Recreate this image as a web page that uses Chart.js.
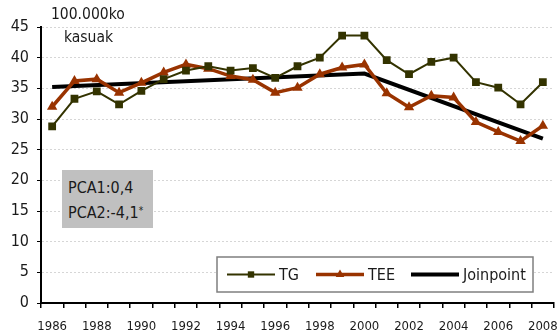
<!DOCTYPE html>
<html>
<head>
<meta charset="utf-8">
<script src="https://cdn.jsdelivr.net/npm/chart.js@4.4.1/dist/chart.umd.min.js"></script>
<style>
  body { margin: 0; background: #fff; }
  #wrap { position: relative; width: 560px; height: 335px; }
  .note { position: absolute; font-family: "DejaVu Sans Condensed", "DejaVu Sans", sans-serif; color: #1a1a1a; }
  #unit { left: 51px; top: 3px; font-size: 15.5px; line-height: 23px; }
  #unit span { display: block; margin-left: 13px; }
  #pca { left: 62px; top: 170px; width: 91px; height: 58px; background: #c0c0c0;
         font-size: 16px; line-height: 23px; padding: 6px 0 0 6px; box-sizing: border-box; }
  #pca sup { font-size: 10px; vertical-align: 4px; }
</style>
</head>
<body>
<div id="wrap">
  <canvas id="myChart" width="560" height="335"></canvas>
  <div class="note" id="unit">100.000ko<span>kasuak</span></div>
  <div class="note" id="pca">PCA1:0,4<br>PCA2:-4,1<sup>*</sup></div>
</div>
<script>
const years = ['1986', '1987', '1988', '1989', '1990', '1991', '1992', '1993', '1994', '1995', '1996', '1997',
               '1998', '1999', '2000', '2001', '2002', '2003', '2004', '2005', '2006', '2007', '2008'];
const tg = [28.8, 33.3, 34.5, 32.4, 34.6, 36.5, 37.9, 38.6, 37.9, 38.3, 36.7, 38.6,
            40.0, 43.6, 43.6, 39.6, 37.3, 39.3, 40.0, 36.0, 35.1, 32.4, 36.0];
const tee = [32.0, 36.2, 36.5, 34.3, 35.9, 37.6, 38.9, 38.2, 37.0, 36.4, 34.3, 35.1,
             37.3, 38.4, 38.9, 34.2, 31.9, 33.8, 33.5, 29.5, 27.9, 26.4, 28.9];
// joinpoint segments: only the knots are given, the line spans the gaps
const joinpoint = [35.2, null, null, null, null, null, null, null, null, null, null, null,
                   null, null, 37.4, null, null, null, null, null, null, null, 26.8];
const yTicks = [0, 5, 10, 15, 20, 25, 30, 35, 40, 45];

const font = 'DejaVu Sans Condensed';

// legend box drawn inside the plot area, bottom right
const boxLegend = {
    id: 'boxLegend',
    afterDraw(chart) {
        const ctx = chart.ctx;
        const area = chart.chartArea;
        const x0 = area.right - 337, y0 = area.bottom - 46, w = 316, h = 35;
        ctx.save();
        ctx.fillStyle = '#fff';
        ctx.fillRect(x0, y0, w, h);
        ctx.strokeStyle = '#7f7f7f';
        ctx.lineWidth = 1.5;
        ctx.strokeRect(x0, y0, w, h);
        const cy = y0 + h / 2;
        const slots = [10, 99, 194];
        const marks = [4.5, 5];
        ctx.font = '16px "' + font + '"';
        ctx.textBaseline = 'middle';
        chart.data.datasets.forEach((ds, i) => {
            const lx = x0 + slots[i];
            ctx.strokeStyle = ds.borderColor;
            ctx.lineWidth = ds.borderWidth;
            ctx.beginPath();
            ctx.moveTo(lx, cy);
            ctx.lineTo(lx + 48, cy);
            ctx.stroke();
            if (ds.pointRadius > 0) {
                ctx.fillStyle = ds.pointBackgroundColor;
                Chart.helpers.drawPoint(ctx, {pointStyle: ds.pointStyle, radius: marks[i], borderWidth: 0}, lx + 24, cy);
            }
            ctx.fillStyle = '#1a1a1a';
            ctx.fillText(ds.label, lx + 52, cy + 1);
        });
        ctx.restore();
    }
};

const ctx = document.getElementById('myChart').getContext('2d');
new Chart(ctx, {
    type: 'line',
    data: {
        labels: years,
        datasets: [
            {
                label: 'TG', data: tg,
                borderColor: '#333300', borderWidth: 2,
                pointStyle: 'rect', pointRadius: 5.5,
                pointBackgroundColor: '#333300', pointBorderColor: '#333300', pointBorderWidth: 0
            },
            {
                label: 'TEE', data: tee,
                borderColor: '#993300', borderWidth: 3.5,
                pointStyle: 'triangle', pointRadius: 6,
                pointBackgroundColor: '#993300', pointBorderColor: '#993300', pointBorderWidth: 0
            },
            {
                label: 'Joinpoint', data: joinpoint,
                borderColor: '#000000', borderWidth: 4,
                pointRadius: 0, spanGaps: true
            }
        ]
    },
    options: {
        responsive: false,
        animation: false,
        events: [],
        layout: { padding: { top: 27, right: 5, left: 0, bottom: 0 } },
        plugins: {
            legend: { display: false },
            tooltip: { enabled: false }
        },
        scales: {
            x: {
                offset: true,
                grid: { offset: true, drawOnChartArea: false, color: '#000', tickLength: 5, lineWidth: 1.5 },
                border: { color: '#000', width: 2 },
                ticks: {
                    autoSkip: false, maxRotation: 0, padding: 11,
                    color: '#1a1a1a', font: { family: font, size: 13 },
                    callback: function(v, i) { return i % 2 === 0 ? years[i] : ''; }
                },
                afterFit: function(scale) {
                    scale.height = 32;
                    scale.paddingLeft = 0;
                    scale.paddingRight = 0;
                }
            },
            y: {
                min: 0, max: 45,
                afterBuildTicks: function(scale) { scale.ticks = yTicks.map(v => ({ value: v })); },
                grid: { color: '#d6d6d6', tickColor: '#000', tickLength: 4, lineWidth: 1 },
                border: { color: '#000', width: 2, dash: [2, 2] },
                ticks: { padding: 8, color: '#1a1a1a', font: { family: font, size: 16 } },
                afterFit: function(scale) {
                    scale.width = 41;
                    scale.paddingTop = 0;
                    scale.paddingBottom = 0;
                }
            }
        }
    },
    plugins: [boxLegend]
});
</script>
</body>
</html>
